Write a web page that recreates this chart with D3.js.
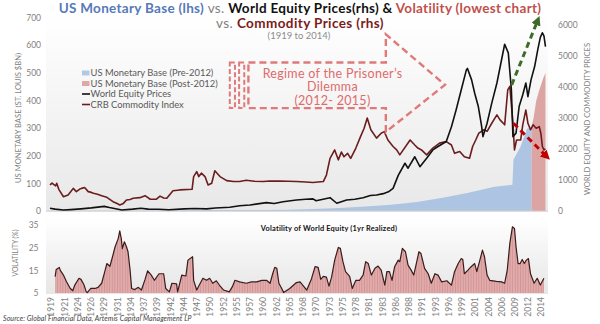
<!DOCTYPE html>
<html>
<head>
<meta charset="utf-8">
<script src="https://cdn.jsdelivr.net/npm/d3@7"></script>
<style>
body { margin: 0; background: #fff; }
svg text { font-family: Lato, "Open Sans", sans-serif; }
</style>
</head>
<body>
<svg id="chart" width="600" height="324"></svg>
<script>
// ---- data (year, value) ----
var equityPrices = [[1919,87],[1920,60],[1921.6,32],[1923,45],[1925,70],[1927,100],[1929.5,150],[1930.5,110],[1932.9,30],[1935,60],[1936.6,90],[1938,60],[1940,55],[1942,40],[1945,70],[1947,80],[1949.3,70],[1951,95],[1953.8,120],[1955.7,170],[1957.7,195],[1960.9,270],[1962.4,240],[1964.1,300],[1966.7,355],[1968.5,380],[1969.9,390],[1970.5,330],[1973.2,430],[1974.5,250],[1976.4,355],[1978,380],[1979.6,430],[1981,500],[1982.2,515],[1983.5,560],[1984.5,620],[1985.4,730],[1986.4,1150],[1987.7,1540],[1988.3,1380],[1989.6,1750],[1990.6,1430],[1991.9,1700],[1993.1,1970],[1994.1,2080],[1995.7,2240],[1996.7,2720],[1997.6,3260],[1998.6,3910],[1999.6,4560],[1999.8,4600],[2000.6,4230],[2001.2,3800],[2001.9,3370],[2002.5,2780],[2002.8,2400],[2003.6,2830],[2004.5,3480],[2005.5,4130],[2006.4,4880],[2007.0,5380],[2007.7,5100],[2008.3,3910],[2008.6,2400],[2009.2,2510],[2009.8,3370],[2010.5,3750],[2011.1,4130],[2011.5,3690],[2012.1,4230],[2012.8,4660],[2013.4,5200],[2013.9,5600],[2014.3,5750],[2014.6,5650],[2014.9,5300]];

var crbIndex = [[1919.0,840],[1919.4,900],[1919.7,860],[1920.1,810],[1920.3,895],[1920.7,700],[1921.6,460],[1922.5,515],[1923.0,620],[1923.5,730],[1924.1,625],[1924.7,700],[1925.1,730],[1925.7,760],[1926.4,625],[1927.0,600],[1927.4,570],[1928.2,540],[1929.0,495],[1930.0,440],[1931.2,300],[1932.0,240],[1932.5,195],[1933.2,245],[1933.8,355],[1934.5,370],[1935.1,410],[1936.4,430],[1937.4,495],[1938.4,380],[1939.6,380],[1940.3,480],[1941.0,420],[1941.6,410],[1942.8,655],[1944.1,680],[1946.5,700],[1946.8,1110],[1947.4,1270],[1947.8,1110],[1948.3,1220],[1949.0,1110],[1949.6,840],[1950.3,895],[1950.9,1300],[1951.9,1110],[1953.2,980],[1954.5,950],[1955.7,950],[1957.0,990],[1958.5,960],[1960.3,950],[1961.5,970],[1963.5,965],[1965,960],[1966.7,950],[1968.5,935],[1969.9,920],[1971.9,950],[1972.5,1160],[1973.2,1700],[1974.1,1970],[1974.8,1650],[1975.4,1900],[1975.9,1750],[1976.6,1860],[1977.2,1700],[1978.2,2030],[1979.1,2400],[1979.8,2670],[1980.4,3000],[1981.1,2620],[1982.2,2350],[1983.1,2510],[1983.7,2560],[1984.4,2290],[1985.4,2080],[1986.1,1970],[1986.7,1810],[1988.7,2290],[1989.6,2130],[1990.2,2030],[1990.9,1970],[1991.9,1810],[1993.1,2030],[1994.4,2190],[1995.7,2240],[1996.7,2130],[1997.3,1860],[1998.3,1920],[1999.2,1750],[2000.2,1700],[2000.8,2080],[2001.4,2290],[2002.0,2510],[2003.0,2620],[2003.6,2570],[2004.5,2830],[2005.5,3100],[2006.1,2940],[2007.0,2780],[2007.6,3910],[2008.0,4020],[2008.6,2830],[2008.9,1970],[2009.3,2290],[2010.1,2290],[2010.5,2780],[2011.1,3260],[2011.5,2830],[2012.0,2620],[2012.5,2780],[2013.1,2670],[2013.7,2720],[2014.0,2510],[2014.3,2080],[2014.6,1970],[2014.9,2000]];

var basePre2012 = [[1919,6],[1925,7],[1930,7],[1935,10],[1940,20],[1945,28],[1950,30],[1955,32],[1960,33],[1965,40],[1970,63],[1975,95],[1980,145],[1985,200],[1990,290],[1995,430],[2000,590],[2005,780],[2008.5,850],[2008.7,1650],[2009.5,1900],[2010,2050],[2010.8,2400],[2011.3,2650],[2012.2,2700]];
var basePost2012 = [[2012.2,2720],[2012.6,3000],[2013.1,3550],[2013.6,3850],[2014.0,4050],[2014.5,4300],[2014.9,4450]];

var volatility = [[1920.0,12.2],[1920.2,15.4],[1920.8,16.3],[1921.0,15],[1921.6,12.9],[1922.2,10],[1922.9,7.1],[1923.4,6],[1923.8,8.5],[1924.6,11.5],[1925.0,11],[1925.6,8.5],[1926.0,5.6],[1926.2,5.2],[1926.9,7],[1927.7,7],[1928.3,7.5],[1929.0,9.3],[1929.6,14.4],[1930.0,18],[1930.6,16.8],[1931.1,21],[1931.6,25.4],[1932.2,29],[1932.5,32.4],[1932.8,29],[1933.0,24.6],[1933.4,27.6],[1933.8,25.4],[1934.1,23.2],[1934.5,15.1],[1934.8,7],[1935.4,6.5],[1936.1,7.5],[1936.7,6.3],[1937.4,11],[1937.9,14.8],[1938.6,12.9],[1939.2,10.6],[1940.1,13.5],[1941.0,13.5],[1941.4,7],[1942.1,5.5],[1942.6,9.3],[1943.5,9],[1943.7,5.5],[1944.5,12.9],[1945.3,12.5],[1945.7,19.5],[1946.6,21],[1946.8,10.6],[1947.4,6.3],[1947.9,8.5],[1948.6,11.5],[1949.3,10.6],[1949.9,11.5],[1950.5,9.3],[1951.2,10.4],[1951.9,8.1],[1952.6,6.3],[1953.7,5.5],[1954.3,7.8],[1954.8,10.6],[1955.7,9.9],[1957.0,9.3],[1958.0,9.9],[1959.0,9.9],[1960.0,10.6],[1960.9,10.6],[1961.6,9.3],[1962.1,13.5],[1962.5,16.3],[1962.9,15.9],[1963.3,9.3],[1964.0,6.3],[1964.2,5.2],[1965.4,7],[1966.7,9.6],[1967.4,9.9],[1968.7,6.3],[1969.6,11.2],[1970.3,16.6],[1970.9,16.3],[1971.4,11],[1971.9,12.3],[1972.5,12],[1973.0,8],[1973.5,12],[1974.1,19.5],[1974.8,25.1],[1975.2,24.7],[1975.7,18.8],[1976.2,14.4],[1977.0,12.3],[1977.5,7],[1978.2,10.6],[1978.9,10.6],[1979.6,12.9],[1980.1,18.8],[1980.6,18],[1981.2,12.9],[1981.9,15.9],[1982.5,16.9],[1983.1,15.1],[1983.8,8.5],[1984.2,14.4],[1984.7,14.4],[1985.2,10.6],[1985.7,16.6],[1986.4,19.5],[1986.7,18.8],[1987.2,24.7],[1987.8,23.2],[1988.3,17.3],[1988.9,15.1],[1989.4,12.9],[1989.9,18],[1990.4,23.2],[1990.8,22.4],[1991.5,15.9],[1992.2,13.5],[1992.8,9.3],[1993.5,13.5],[1994.1,12.9],[1994.8,9.9],[1995.8,10.4],[1996.7,8.5],[1997.3,14.4],[1998.0,18],[1998.6,20.2],[1998.9,19.8],[1999.2,13.5],[1999.9,15.1],[2000.5,16.6],[2001.2,18],[2001.6,14.4],[2002.2,19.5],[2002.7,23.9],[2003.1,21],[2003.6,12.9],[2004.1,10.6],[2005.4,10.1],[2006.4,9.9],[2007.0,9.3],[2007.5,15.1],[2008.0,26.9],[2008.5,34.2],[2008.9,33.5],[2009.2,25.4],[2009.6,18],[2010.0,18],[2010.4,19.8],[2010.8,18],[2011.2,19.5],[2011.6,20.2],[2012.0,13.5],[2012.7,9.3],[2013.3,11.5],[2013.9,8.5],[2014.6,11.5]];

var yearLabels = ["1919","1921","1924","1926","1929","1931","1934","1937","1939","1942","1944","1947","1950","1952","1955","1957","1960","1962","1965","1968","1970","1973","1975","1978","1981","1983","1986","1988","1991","1993","1996","1999","2001","2004","2006","2009","2012","2014"];
var leftTicks = [0,100,200,300,400,500,600,700];
var rightTicks = [0,1000,2000,3000,4000,5000,6000];
var volTicks = [5,15,25,35];
var legendItems = [
  {name: "US Monetary Base (Pre-2012)", kind: "box", color: "#b3c9e3"},
  {name: "US Monetary Base (Post-2012)", kind: "box", color: "#dfa8a7"},
  {name: "World Equity Prices", kind: "line", color: "#111111"},
  {name: "CRB Commodity Index", kind: "line", color: "#6b1d1d"}
];

var svg = d3.select("#chart");
var defs = svg.append("defs");

function gradient(id, c1, c2) {
    var gr = defs.append("linearGradient").attr("id", id)
        .attr("x1", 0).attr("y1", 0).attr("x2", 0).attr("y2", 1);
    gr.append("stop").attr("offset", "0%").attr("stop-color", c1);
    gr.append("stop").attr("offset", "100%").attr("stop-color", c2);
}
gradient("bgTop", "#ffffff", "#e8e8e8");
gradient("bgVol", "#ffffff", "#e6e6e6");

// arrow heads
function marker(id, color) {
    defs.append("marker").attr("id", id)
        .attr("viewBox", "0 0 10 10").attr("refX", 5).attr("refY", 5)
        .attr("markerWidth", 3.2).attr("markerHeight", 3.2)
        .attr("orient", "auto")
        .append("path").attr("d", "M0,0 L10,5 L0,10 z").attr("fill", color);
}
marker("headGreen", "#3f6b2a");
marker("headRed", "#c00000");

// stripes for the volatility columns
var pat = defs.append("pattern").attr("id", "volBars")
    .attr("patternUnits", "userSpaceOnUse").attr("width", 2.6).attr("height", 10);
pat.append("rect").attr("width", 2.6).attr("height", 10).attr("fill", "#e2aaaa");
pat.append("rect").attr("width", 0.6).attr("height", 10).attr("fill", "#c98c8c");

// scales
var x = d3.scaleLinear().domain([1919, 2015]).range([50, 546]);
var yL = d3.scaleLinear().domain([0, 700]).range([211, 17.6]);
var yR = d3.scaleLinear().domain([0, 6000]).range([211, 25]);
var yV = d3.scaleLinear().domain([5, 35]).range([293, 225]);
var xLab = d3.scalePoint().domain(yearLabels).range([51, 541]);

// backgrounds
svg.append("rect").attr("x", 46).attr("y", 14).attr("width", 502).attr("height", 198)
    .attr("fill", "url(#bgTop)");
svg.append("rect").attr("x", 46).attr("y", 218).attr("width", 502).attr("height", 76)
    .attr("fill", "url(#bgVol)");

// monetary base areas
var areaR = d3.area().x(d => x(d[0])).y0(yR(0)).y1(d => yR(d[1]));
svg.append("path").datum(basePre2012).attr("d", areaR).attr("fill", "#adc5e2");
svg.append("path").datum(basePost2012).attr("d", areaR).attr("fill", "#dca5a4");

svg.append("line").attr("x1", 46).attr("x2", 548).attr("y1", yR(0)).attr("y2", yR(0))
    .attr("stroke", "#d0d0d0").attr("stroke-width", 0.8);

var lineR = d3.line().x(d => x(d[0])).y(d => yR(d[1]));
svg.append("path").datum(crbIndex).attr("d", lineR)
    .attr("fill", "none").attr("stroke", "#6b1d1d").attr("stroke-width", 1.6)
    .attr("stroke-linejoin", "round");
svg.append("path").datum(equityPrices).attr("d", lineR)
    .attr("fill", "none").attr("stroke", "#111111").attr("stroke-width", 1.6)
    .attr("stroke-linejoin", "round");

// volatility chart
var areaV = d3.area().x(d => x(d[0])).y0(yV(5)).y1(d => yV(d[1]));
svg.append("path").datum(volatility).attr("d", areaV).attr("fill", "url(#volBars)");
svg.append("path").datum(volatility).attr("d", d3.line().x(d => x(d[0])).y(d => yV(d[1])))
    .attr("fill", "none").attr("stroke", "#3a1c1c").attr("stroke-width", 1.2)
    .attr("stroke-linejoin", "round");

// axes
var fmt = d3.format("d");
function styleAxis(sel, size) {
    sel.select(".domain").remove();
    sel.selectAll("text").attr("fill", "#7f7f7f").attr("font-size", size);
}
svg.append("g").attr("transform", "translate(44,0)")
    .call(d3.axisLeft(yL).tickValues(leftTicks).tickFormat(fmt).tickSize(0).tickPadding(3))
    .call(styleAxis, 8.5);
svg.append("g").attr("transform", "translate(555,0)")
    .call(d3.axisRight(yR).tickValues(rightTicks).tickFormat(fmt).tickSize(0).tickPadding(3))
    .call(styleAxis, 8.5);
svg.append("g").attr("transform", "translate(41.5,0)")
    .call(d3.axisLeft(yV).tickValues(volTicks).tickFormat(fmt).tickSize(0).tickPadding(3))
    .call(styleAxis, 8.5);
svg.append("g").attr("transform", "translate(0,293)")
    .call(d3.axisBottom(xLab).tickSize(0))
    .call(styleAxis, 8.5)
    .selectAll("text")
    .attr("transform", "rotate(-90)")
    .attr("text-anchor", "end")
    .attr("x", -4).attr("y", 0).attr("dy", "0.35em");

// axis titles
function vTitle(cx, cy, txt, len) {
    svg.append("text").attr("transform", "translate(" + cx + "," + cy + ") rotate(-90)")
        .attr("text-anchor", "middle").attr("dy", "0.35em")
        .attr("font-size", 8).attr("fill", "#7f7f7f")
        .attr("textLength", len).attr("lengthAdjust", "spacingAndGlyphs")
        .text(txt);
}
vTitle(18, 118, "US MONETARY BASE (ST. LOUIS $BN)", 130);
vTitle(587, 119, "WORLD EQUITY AND COMMODITY PRICES", 152);
vTitle(15, 253, "VOLATILITY (%)", 47);

// titles
var t1 = svg.append("text").attr("x", 300).attr("y", 12.5).attr("text-anchor", "middle")
    .attr("font-size", 13.5).attr("letter-spacing", 0.3);
t1.append("tspan").attr("font-weight", "bold").attr("fill", "#5679b8").text("US Monetary Base (lhs) ");
t1.append("tspan").attr("fill", "#7f7f7f").text(" vs. ");
t1.append("tspan").attr("font-weight", "bold").attr("fill", "#111").text("World Equity Prices(rhs) & ");
t1.append("tspan").attr("font-weight", "bold").attr("fill", "#c0504d").text("Volatility (lowest chart)");
var t2 = svg.append("text").attr("x", 300).attr("y", 27.5).attr("text-anchor", "middle")
    .attr("font-size", 13.5).attr("letter-spacing", 0.4);
t2.append("tspan").attr("fill", "#7f7f7f").text("vs. ");
t2.append("tspan").attr("font-weight", "bold").attr("fill", "#7b1c1c").text("Commodity Prices (rhs)");
svg.append("text").attr("x", 299).attr("y", 38.8).attr("text-anchor", "middle")
    .attr("font-size", 9.5).attr("fill", "#8c8c8c").text("(1919 to 2014)");

svg.append("text").attr("x", 329).attr("y", 231).attr("text-anchor", "middle")
    .attr("font-size", 7.4).attr("letter-spacing", 0.2).attr("font-weight", "bold").attr("fill", "#111")
    .text("Volatility of World Equity (1yr Realized)");

svg.append("text").attr("x", 3).attr("y", 321).attr("font-size", 7)
    .attr("letter-spacing", 0.1)
    .attr("font-style", "italic").attr("fill", "#404040")
    .text("Source: Global Financial Data, Artemis Capital Management LP");

// legend
var leg = svg.append("g").selectAll("g").data(legendItems).enter().append("g")
    .attr("transform", (d, i) => "translate(82," + (73 + i * 10.5) + ")");
leg.filter(d => d.kind === "box").append("rect")
    .attr("x", 0).attr("y", -2.5).attr("width", 7.5).attr("height", 5).attr("fill", d => d.color);
leg.filter(d => d.kind === "line").append("line")
    .attr("x1", 0).attr("x2", 8).attr("y1", 0).attr("y2", 0)
    .attr("stroke", d => d.color).attr("stroke-width", 1.6);
leg.append("text").attr("x", 8.5).attr("dy", "0.35em").attr("font-size", 9.4)
    .attr("fill", "#595959").text(d => d.name);

// "Regime of the Prisoner's Dilemma" dashed block arrow (year / rhs units)
var pink = "#e07a7a";
var bodyL = 1957.4, headB = 1984.0, tipX = 1995.45;
var bodyT = 4790, bodyBm = 3320, headT = 5700, headBm = 2550, tipY = 4070;
var arrowPts = [[bodyL, bodyT], [headB, bodyT], [headB, headT], [tipX, tipY],
                [headB, headBm], [headB, bodyBm], [bodyL, bodyBm]];
svg.append("path")
    .attr("d", d3.line().x(d => x(d[0])).y(d => yR(d[1]))(arrowPts) + "Z")
    .attr("fill", "none").attr("stroke", pink).attr("stroke-width", 2.4)
    .attr("stroke-dasharray", "7,4");
[[1953.8, 1954.8], [1955.6, 1956.6]].forEach(function (s) {
    svg.append("rect").attr("x", x(s[0])).attr("y", yR(bodyT))
        .attr("width", x(s[1]) - x(s[0])).attr("height", yR(bodyBm) - yR(bodyT))
        .attr("fill", "none").attr("stroke", pink).attr("stroke-width", 2)
        .attr("stroke-dasharray", "5,2.5");
});
var ann = svg.append("text").attr("text-anchor", "middle").attr("font-size", 12.5)
    .attr("letter-spacing", 0.3).attr("fill", "#e06a6a");
["Regime of the Prisoner\u2019s", "Dilemma", "(2012- 2015)"].forEach(function (s, i) {
    ann.append("tspan").attr("x", 332.5).attr("y", 77.5 + i * 13.5).text(s);
});

// green and red dashed arrows
function dashArrow(a, b, color, head) {
    svg.append("line")
        .attr("x1", x(a[0])).attr("y1", yR(a[1])).attr("x2", x(b[0])).attr("y2", yR(b[1]))
        .attr("stroke", color).attr("stroke-width", 3).attr("stroke-dasharray", "6,4")
        .attr("marker-end", "url(#" + head + ")");
}
dashArrow([2008.36, 4070], [2013.4, 6150], "#3f6b2a", "headGreen");
dashArrow([2008.7, 2830], [2015.1, 1760], "#c00000", "headRed");
</script>
</body>
</html>
